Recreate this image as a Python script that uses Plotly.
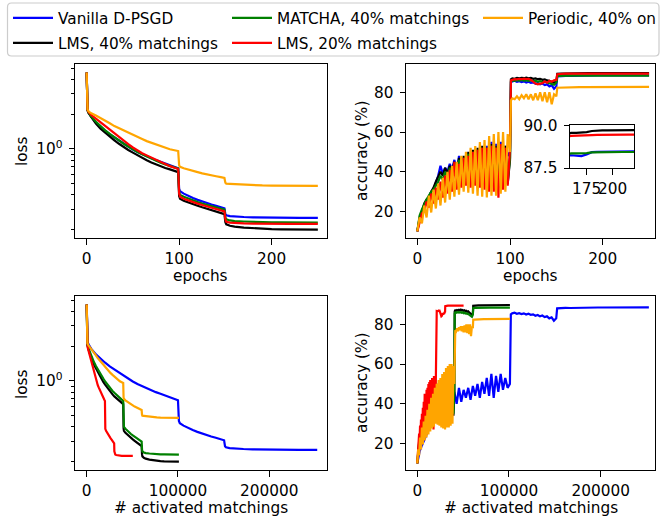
import plotly.graph_objects as go

W, H = 663, 516
FONT = "DejaVu Sans"
FS = 15.3

series_names = ["Vanilla D-PSGD", "LMS, 40% matchings", "MATCHA, 40% matchings",
                "LMS, 20% matchings", "Periodic, 40% on"]
series_colors = ["#0000ff", "#000000", "#008000", "#ff0000", "#ffa500"]
matchings_per_epoch = [1010, 404, 404, 202, 404]

# ---------------- loss ----------------
loss_epochs = [0, 1, 2, 5, 10, 15, 20, 25, 30, 35, 40, 45, 50, 55, 60, 65, 70, 75, 80, 85, 90, 95,
               99, 100, 101, 105, 110, 115, 120, 125, 130, 135, 140, 145, 149, 150, 151, 155, 160,
               170, 180, 190, 200, 210, 220, 230, 240, 250]
loss_vanilla = [4.60, 2.18, 2.08, 1.90, 1.70, 1.55, 1.44, 1.34, 1.26, 1.18, 1.10, 1.04, 0.99, 0.94,
                0.90, 0.86, 0.83, 0.80, 0.775, 0.75, 0.72, 0.70, 0.68, 0.45, 0.43, 0.41, 0.39, 0.375,
                0.362, 0.35, 0.34, 0.33, 0.322, 0.314, 0.306, 0.272, 0.266, 0.262, 0.259, 0.257,
                0.255, 0.254, 0.254, 0.253, 0.253, 0.253, 0.253, 0.253]
loss_lms40 = [4.60, 2.15, 2.05, 1.88, 1.66, 1.50, 1.38, 1.28, 1.19, 1.11, 1.04, 0.98, 0.93, 0.88,
              0.84, 0.80, 0.765, 0.735, 0.71, 0.685, 0.665, 0.645, 0.63, 0.39, 0.37, 0.355, 0.342,
              0.332, 0.322, 0.312, 0.303, 0.295, 0.287, 0.279, 0.272, 0.232, 0.222, 0.216, 0.212,
              0.208, 0.205, 0.203, 0.202, 0.201, 0.200, 0.200, 0.200, 0.200]
loss_matcha = [4.60, 2.16, 2.07, 1.91, 1.72, 1.57, 1.45, 1.35, 1.26, 1.18, 1.11, 1.05, 0.99, 0.94,
               0.90, 0.86, 0.82, 0.79, 0.76, 0.735, 0.71, 0.69, 0.675, 0.42, 0.40, 0.385, 0.37,
               0.358, 0.347, 0.337, 0.328, 0.32, 0.312, 0.305, 0.298, 0.255, 0.245, 0.24, 0.237,
               0.235, 0.233, 0.232, 0.231, 0.231, 0.230, 0.230, 0.230, 0.230]
loss_lms20 = [4.60, 2.18, 2.10, 1.97, 1.83, 1.70, 1.58, 1.46, 1.35, 1.26, 1.17, 1.10, 1.03, 0.97,
              0.92, 0.88, 0.84, 0.80, 0.77, 0.74, 0.71, 0.69, 0.67, 0.41, 0.385, 0.37, 0.357,
              0.346, 0.336, 0.327, 0.318, 0.31, 0.302, 0.295, 0.288, 0.245, 0.234, 0.23, 0.228,
              0.226, 0.225, 0.224, 0.224, 0.224, 0.224, 0.224, 0.224, 0.224]
loss_periodic = [4.60, 2.20, 2.12, 2.04, 1.95, 1.86, 1.77, 1.67, 1.58, 1.51, 1.44, 1.38, 1.32, 1.27,
                 1.22, 1.17, 1.13, 1.09, 1.05, 1.02, 0.995, 0.975, 0.96, 0.72, 0.70, 0.68, 0.66,
                 0.645, 0.63, 0.615, 0.60, 0.59, 0.58, 0.57, 0.56, 0.51, 0.50, 0.498, 0.495, 0.49,
                 0.486, 0.483, 0.481, 0.480, 0.480, 0.479, 0.479, 0.479]

# ---------------- accuracy (%) ----------------
acc_epochs = [0, 2.5, 5, 7.5, 10, 12.5, 15, 17.5, 20, 22.5, 25, 27.5, 30, 32.5, 35, 37.5, 40, 42.5,
              45, 47.5, 50, 52.5, 55, 57.5, 60, 62.5, 65, 67.5, 70, 72.5, 75, 77.5, 80, 82.5, 85,
              87.5, 90, 92.5, 95, 97.5, 100,
              101,
              102.5, 105, 107.5, 110, 112.5, 115, 117.5, 120, 122.5, 125, 127.5, 130, 132.5, 135,
              137.5, 140, 142.5, 145, 147.5, 150,
              151,
              155, 160, 165, 170, 175, 180, 185, 190, 195, 200, 205, 210, 215, 220, 225, 230, 235,
              240, 245, 250]
acc_vanilla = [10, 16, 19, 22, 25, 27, 30, 31, 34, 38, 43, 39, 42, 40, 44, 41, 46, 40, 48, 41, 47,
               43, 48, 42, 49, 44, 50, 43, 51, 45, 53, 44, 55, 43, 54, 46, 55, 47, 53, 48, 50,
               85.0,
               85.5, 85.8, 85.3, 85.6, 85.2, 85.5, 84.9, 85.3, 84.8, 85.0, 84.3, 84.7, 84.0, 84.4,
               83.6, 84.0, 83.0, 83.5, 81.8, 83.0,
               88.0,
               88.2, 88.25, 88.22, 88.2, 88.3, 88.43, 88.45, 88.46, 88.46, 88.47, 88.47, 88.47,
               88.47, 88.48, 88.48, 88.48, 88.48, 88.48, 88.48, 88.48]
acc_lms40 = [10, 17, 20, 24, 26, 27, 30, 32, 35, 38, 40, 38, 42, 39, 43, 40, 45, 38, 47, 37, 48,
             36, 50, 35, 51, 35, 52, 34, 53, 34, 52, 33, 54, 33, 53, 32, 54, 33, 53, 34, 46,
             86.5,
             87.0, 86.8, 87.2, 87.0, 87.3, 87.1, 87.4, 87.0, 87.2, 86.8, 87.0, 86.6, 86.8, 86.3,
             86.5, 86.0, 85.8, 85.2, 84.8, 85.5,
             89.3,
             89.45, 89.55, 89.55, 89.57, 89.6, 89.66, 89.7, 89.7, 89.7, 89.71, 89.71, 89.71,
             89.72, 89.72, 89.72, 89.72, 89.72, 89.72, 89.72, 89.72]
acc_matcha = [10, 18, 21, 24, 26, 28, 30, 31, 33, 35, 38, 36, 40, 37, 42, 38, 44, 37, 46, 36, 47,
              36, 49, 35, 50, 35, 51, 34, 52, 34, 52, 33, 53, 33, 52, 33, 53, 34, 52, 35, 47,
              85.5,
              86.0, 85.8, 86.1, 85.9, 86.2, 85.9, 86.1, 85.8, 86.0, 85.6, 85.8, 85.4, 85.6, 85.2,
              85.3, 84.8, 84.6, 84.2, 83.8, 84.8,
              88.2,
              88.3, 88.36, 88.36, 88.35, 88.37, 88.42, 88.43, 88.43, 88.43, 88.43, 88.44, 88.44,
              88.44, 88.44, 88.44, 88.44, 88.44, 88.44, 88.44, 88.44]
acc_lms20 = [10, 15, 19, 20, 25, 22, 29, 24, 32, 26, 35, 27, 38, 29, 41, 30, 45, 31, 44, 32, 47,
             33, 48, 32, 50, 33, 51, 32, 52, 31, 52, 30, 53, 30, 52, 27, 54, 31, 52, 33, 52,
             86.0,
             86.3, 86.6, 86.5, 86.8, 86.6, 86.9, 86.7, 86.8, 86.2, 85.2, 84.4, 84.0, 84.2, 84.6,
             85.5, 84.8, 85.8, 85.3, 86.0, 86.3,
             89.1,
             89.3, 89.38, 89.38, 89.4, 89.4, 89.42, 89.43, 89.44, 89.44, 89.45, 89.45, 89.45,
             89.45, 89.45, 89.45, 89.45, 89.45, 89.45, 89.45, 89.45]
acc_periodic = [10, 17, 14, 23, 17, 28, 19.5, 31, 21.5, 34, 23, 37, 24.5, 40, 26, 43, 27.5, 45,
                28.5, 48, 30, 50, 29.5, 52, 29, 53, 28, 55, 27.5, 56, 27, 58, 28, 59, 28, 60, 29,
                60, 30, 59, 50,
                76,
                77, 76.5, 78, 76.5, 78.5, 77, 79, 76.5, 79, 76, 79.5, 76, 80, 75.5, 80, 75, 80,
                74, 79, 78,
                82.3,
                82.4, 82.5, 82.5, 82.5, 82.6, 82.6, 82.6, 82.6, 82.6, 82.7, 82.7, 82.7, 82.7,
                82.7, 82.7, 82.7, 82.7, 82.7, 82.7, 82.7]

loss_series = [loss_vanilla, loss_lms40, loss_matcha, loss_lms20, loss_periodic]
acc_series = [acc_vanilla, acc_lms40, acc_matcha, acc_lms20, acc_periodic]

# ---------------- layout helpers (pixel -> paper) ----------------
def fx(p):
    return p / W

def fy(p):
    return 1 - p / H

fig = go.Figure()
LW = 2.2
legend_ids = ["legend", "legend2", "legend3", "legend4", "legend5"]

for i, name in enumerate(series_names):
    col = series_colors[i]
    line = dict(color=col, width=LW)
    m_x_loss = [e * matchings_per_epoch[i] for e in loss_epochs]
    m_x_acc = [e * matchings_per_epoch[i] for e in acc_epochs]
    fig.add_trace(go.Scatter(x=loss_epochs, y=loss_series[i], mode="lines", line=line, name=name,
                             legend=legend_ids[i], showlegend=True, xaxis="x", yaxis="y"))
    fig.add_trace(go.Scatter(x=acc_epochs, y=acc_series[i], mode="lines", line=line, name=name,
                             showlegend=False, xaxis="x2", yaxis="y2"))
    fig.add_trace(go.Scatter(x=m_x_loss, y=loss_series[i], mode="lines", line=line, name=name,
                             showlegend=False, xaxis="x3", yaxis="y3"))
    fig.add_trace(go.Scatter(x=m_x_acc, y=acc_series[i], mode="lines", line=line, name=name,
                             showlegend=False, xaxis="x4", yaxis="y4"))
    fig.add_trace(go.Scatter(x=acc_epochs, y=acc_series[i], mode="lines", line=line, name=name,
                             showlegend=False, xaxis="x5", yaxis="y5"))

tickfont = dict(family=FONT, size=FS, color="black")
common = dict(showline=True, linecolor="black", linewidth=1.2, mirror=True, ticks="outside",
              ticklen=5.4, tickwidth=1.2, tickcolor="black", showgrid=False, zeroline=False,
              tickfont=tickfont, automargin=False, fixedrange=True)

top_y = [fy(238), fy(64)]
bot_y = [fy(470), fy(296)]
left_x = [fx(75), fx(327)]
right_x = [fx(406), fx(655)]

minor_log = dict(ticks="outside", tickmode="array",
                 tickvals=[0.2, 0.3, 0.4, 0.5, 0.6, 0.7, 0.8, 0.9, 2, 3, 4, 5],
                 ticklen=3.1, tickwidth=0.9, tickcolor="black", showgrid=False)

fig.update_layout(
    width=W, height=H,
    margin=dict(l=0, r=0, t=0, b=0, autoexpand=False),
    paper_bgcolor="white", plot_bgcolor="white",
    font=dict(family=FONT, size=FS, color="black"),
    xaxis=dict(common, domain=left_x, range=[-12.6, 259.9], tickvals=[0, 100, 200], anchor="y",
               ticklabelstandoff=1),
    yaxis=dict(common, domain=top_y, type="log", range=[-0.772, 0.737], tickvals=[1],
               ticktext=["10<sup>0</sup>"], minor=minor_log, anchor="x", ticklabelstandoff=3),
    xaxis2=dict(common, domain=right_x, range=[-12.2, 256.4], tickvals=[0, 100, 200],
                anchor="y2", ticklabelstandoff=1),
    yaxis2=dict(common, domain=top_y, range=[6.65, 94.25], tickvals=[20, 40, 60, 80],
                anchor="x2", ticklabelstandoff=3),
    xaxis3=dict(common, domain=left_x, range=[-12800, 263200], tickvals=[0, 100000, 200000],
                ticktext=["0", "100000", "200000"], anchor="y3", ticklabelstandoff=1),
    yaxis3=dict(common, domain=bot_y, type="log", range=[-0.772, 0.737], tickvals=[1],
                ticktext=["10<sup>0</sup>"], minor=minor_log, anchor="x3", ticklabelstandoff=3),
    xaxis4=dict(common, domain=right_x, range=[-12300, 259200], tickvals=[0, 100000, 200000],
                ticktext=["0", "100000", "200000"], anchor="y4", ticklabelstandoff=1),
    yaxis4=dict(common, domain=bot_y, range=[6.65, 94.25], tickvals=[20, 40, 60, 80],
                anchor="x4", ticklabelstandoff=3),
    xaxis5=dict(common, domain=[fx(570), fx(634.3)], range=[159, 220.8], tickvals=[175, 200],
                tickangle=0, anchor="y5", ticklabelstandoff=1),
    yaxis5=dict(common, domain=[fy(168.3), fy(125)], range=[87.49, 90.01], tickvals=[87.5, 90.0],
                ticktext=["87.5", "90.0"], anchor="x5", ticklabelstandoff=3),
)

# legends: one per entry so the columns line up like the reference
leg_pos = [(8, 18), (8, 43), (227, 18), (227, 43), (478, 18)]
for lid, (px, py) in zip(legend_ids, leg_pos):
    fig.update_layout({lid: dict(x=fx(px), y=fy(py), xanchor="left", yanchor="middle",
                                 bgcolor="rgba(0,0,0,0)", borderwidth=0, itemwidth=40,
                                 font=dict(family=FONT, size=FS, color="black"))})

# legend frame (rounded)
x0, x1, yt, yb = fx(7.5), fx(659), fy(3), fy(56)
rx, ry = 4 / W, 4 / H
path = (f"M {x0+rx},{yt} L {x1-rx},{yt} Q {x1},{yt} {x1},{yt-ry} L {x1},{yb+ry} "
        f"Q {x1},{yb} {x1-rx},{yb} L {x0+rx},{yb} Q {x0},{yb} {x0},{yb+ry} "
        f"L {x0},{yt-ry} Q {x0},{yt} {x0+rx},{yt} Z")
fig.add_shape(type="path", path=path, xref="paper", yref="paper",
              line=dict(color="#cccccc", width=1.2), fillcolor="rgba(0,0,0,0)")

# axis titles
titles = [("loss", 22, 151, -90), ("loss", 22, 384, -90),
          ("accuracy (%)", 362, 151, -90), ("accuracy (%)", 362, 383, -90),
          ("epochs", 201, 276, 0), ("epochs", 530.5, 276, 0),
          ("# activated matchings", 201, 508, 0), ("# activated matchings", 530.5, 508, 0)]
for text, px, py, ang in titles:
    fig.add_annotation(text=text, x=fx(px), y=fy(py), xref="paper", yref="paper",
                       xanchor="center", yanchor="middle", showarrow=False, textangle=ang,
                       font=dict(family=FONT, size=FS, color="black"))

fig.write_html("out.html", config={"displayModeBar": False},
               post_script="document.body.style.margin='0px';document.body.style.padding='0px';")
